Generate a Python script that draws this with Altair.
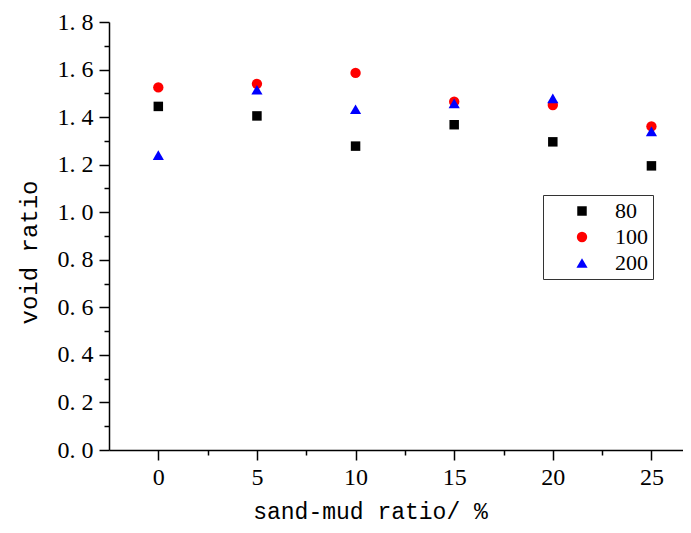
import altair as alt
import pandas as pd

ratio = [0, 5, 10, 15, 20, 25]
s80 = [1.445, 1.405, 1.278, 1.368, 1.296, 1.195]
s100 = [1.525, 1.540, 1.586, 1.465, 1.451, 1.361]
s200 = [1.240, 1.515, 1.433, 1.458, 1.479, 1.340]
series = ["80", "100", "200"]
colors = ["#000000", "#ff0000", "#0000ff"]
shapes = ["square", "circle", "triangle-up"]
sizes = [90, 125, 180]

rows = []
for name, vals in zip(series, [s80, s100, s200]):
    for x, v in zip(ratio, vals):
        rows.append({"ratio": x, "void": v, "series": name})
df = pd.DataFrame(rows)

TICKFONT = "Liberation Serif"
TITLEFONT = "Liberation Mono"
xscale = alt.Scale(domain=[-2.5, 26.6], nice=False, zero=False)
yscale = alt.Scale(domain=[0, 1.8], nice=False)

x_major = [0, 5, 10, 15, 20, 25]
x_minor = [2.5, 7.5, 12.5, 17.5, 22.5]
y_major = [0, 0.2, 0.4, 0.6, 0.8, 1.0, 1.2, 1.4, 1.6, 1.8]
y_minor = [0.1, 0.3, 0.5, 0.7, 0.9, 1.1, 1.3, 1.5, 1.7]

legend = alt.Legend(title=None, orient="none", legendX=434, legendY=173,
                    strokeColor="#333333", padding=5, symbolOffset=23,
                    labelOffset=22, labelFontSize=22, labelFont=TICKFONT,
                    rowPadding=4, labelColor="#000000")

points = alt.Chart(df).mark_point(filled=True, opacity=1).encode(
    x=alt.X("ratio:Q", scale=xscale,
            axis=alt.Axis(orient="bottom", values=x_major, title="sand-mud ratio/ %",
                          titleX=261, titleY=68, titleBaseline="alphabetic",
                          titleFontSize=23, labelPadding=5, tickSize=10)),
    y=alt.Y("void:Q", scale=yscale,
            axis=alt.Axis(orient="left", values=y_major, title="void ratio",
                          labelExpr="replace(format(datum.value, '.1f'), '.', '. ')",
                          titleX=-73, titleY=230, titleBaseline="alphabetic",
                          titleFontSize=24, labelPadding=6, tickSize=10)),
    color=alt.Color("series:N", scale=alt.Scale(domain=series, range=colors), legend=legend),
    shape=alt.Shape("series:N", scale=alt.Scale(domain=series, range=shapes), legend=legend),
    size=alt.Size("series:N", scale=alt.Scale(domain=series, range=sizes), legend=legend),
    order=alt.Order("series_order:Q"),
).transform_calculate(series_order="indexof(['80','100','200'], datum.series)")

minor = alt.Chart(df).mark_point(opacity=0).encode(
    x=alt.X("ratio:Q", scale=xscale,
            axis=alt.Axis(orient="bottom", values=x_minor, labels=False, title=None,
                          domain=False, tickSize=5)),
    y=alt.Y("void:Q", scale=yscale,
            axis=alt.Axis(orient="left", values=y_minor, labels=False, title=None,
                          domain=False, tickSize=5)),
)

chart = alt.layer(points, minor).resolve_axis(x="independent", y="independent").properties(
    width=574, height=428,
    padding={"left": 101, "top": 14, "right": 0, "bottom": 75},
    autosize=alt.AutoSizeParams(type="none"),
).configure_view(stroke=None).configure_axis(
    grid=False, domainColor="#000000", domainWidth=1.5, tickColor="#000000", tickWidth=1.5,
    labelFont=TICKFONT, labelFontSize=24, labelColor="#000000", titleFont=TITLEFONT,
    titleFontWeight="normal", titleColor="#000000",
)

chart.save("out.html", embed_options={"renderer": "svg", "actions": False})
